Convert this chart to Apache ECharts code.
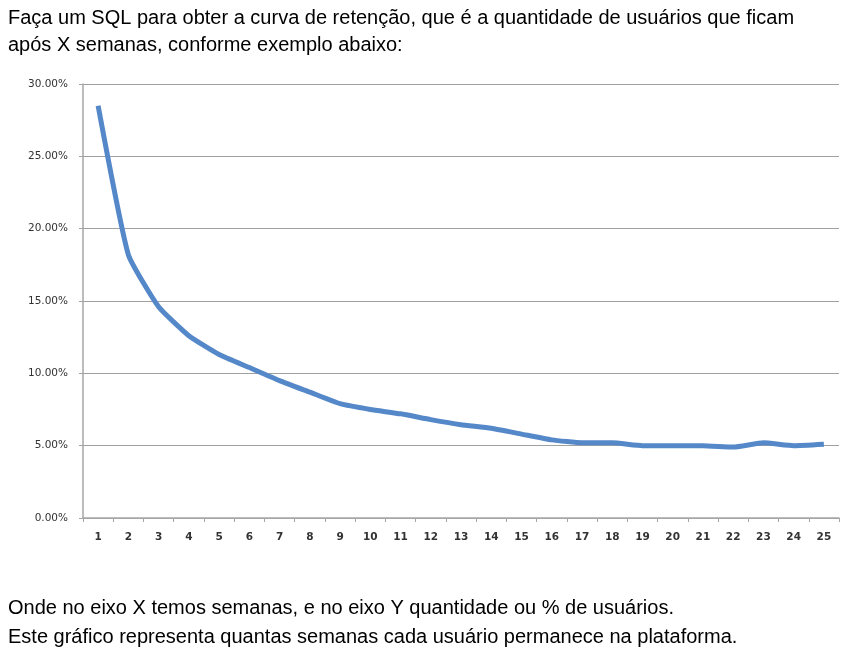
<!DOCTYPE html>
<html>
<head>
<meta charset="utf-8">
<script src="https://cdn.jsdelivr.net/npm/echarts@6/dist/echarts.min.js"></script>
<style>
  html, body { margin: 0; padding: 0; background: #fff; }
  #main { width: 856px; height: 649px; }
</style>
</head>
<body>
<div id="main"></div>
<script>
// semanas
const weeks = ['1', '2', '3', '4', '5', '6', '7', '8', '9', '10', '11', '12', '13',
  '14', '15', '16', '17', '18', '19', '20', '21', '22', '23', '24', '25'];
// % de usuários retidos
const retention = [28.5, 18.2, 14.6, 12.6, 11.3, 10.4, 9.5, 8.7, 7.9, 7.5, 7.2, 6.8, 6.45,
  6.2, 5.8, 5.4, 5.2, 5.2, 5.0, 5.0, 5.0, 4.9, 5.2, 5.0, 5.1];
const topText = [
  'Faça um SQL para obter a curva de retenção, que é a quantidade de usuários que ficam',
  'após X semanas, conforme exemplo abaixo:',
];
const bottomText = [
  'Onde no eixo X temos semanas, e no eixo Y quantidade ou % de usuários.',
  'Este gráfico representa quantas semanas cada usuário permanece na plataforma.',
];

const chart = echarts.init(document.getElementById('main'));
const textFont = '"Liberation Sans", sans-serif';

chart.setOption({
  backgroundColor: '#fff',
  animation: false,
  graphic: [
    {
      type: 'text', left: 8, top: 5,
      style: { text: topText.join('\n'), font: '20px ' + textFont, fill: '#000', lineHeight: 27 },
    },
    {
      type: 'text', left: 8, top: 594,
      style: { text: bottomText.join('\n'), font: '20px ' + textFont, fill: '#000', lineHeight: 29 },
    },
  ],
  grid: { left: 83, right: 17, top: 84, bottom: 131 },
  xAxis: {
    type: 'category',
    data: weeks,
    boundaryGap: true,
    axisLine: { lineStyle: { color: '#a6a6a6', width: 1.5 } },
    axisTick: { show: true, length: 4, lineStyle: { color: '#a6a6a6' } },
    axisLabel: { color: '#333', fontSize: 10.5, fontWeight: 'bold', fontFamily: 'DejaVu Sans', margin: 14 },
  },
  yAxis: {
    type: 'value',
    min: 0,
    max: 30,
    interval: 5,
    axisLine: { show: true, lineStyle: { color: '#a6a6a6', width: 1.5 } },
    axisTick: { show: true, length: 4, lineStyle: { color: '#a6a6a6' } },
    axisLabel: {
      color: '#333', fontSize: 10.5, fontFamily: 'DejaVu Sans', margin: 15,
      formatter: (v) => v.toFixed(2) + '%',
    },
    splitLine: { lineStyle: { color: '#a0a0a0', width: 1.2 } },
  },
  series: [
    {
      type: 'line',
      data: retention,
      showSymbol: false,
      smooth: 0.15,
      lineStyle: { color: '#5588c8', width: 5 },
    },
  ],
});
</script>
</body>
</html>
